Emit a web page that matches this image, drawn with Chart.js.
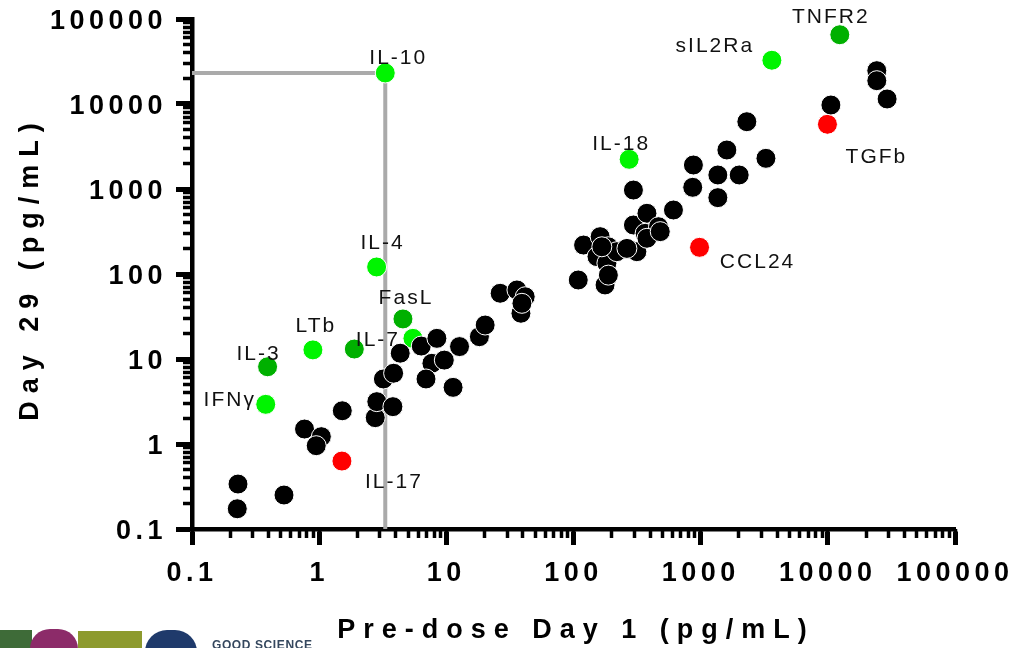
<!DOCTYPE html>
<html>
<head>
<meta charset="utf-8">
<script src="https://cdn.jsdelivr.net/npm/chart.js@4.4.1/dist/chart.umd.min.js"></script>
<style>
  html, body { margin: 0; padding: 0; background: #fff; }
  #wrap { position: relative; width: 1015px; height: 648px; overflow: hidden; }
  #logo { position: absolute; left: 0; top: 0; width: 340px; height: 648px; pointer-events: none; }
  #logo .blk { position: absolute; top: 630px; height: 30px; }
  #logo span {
    position: absolute; left: 212px; top: 638px;
    font: bold 12px "Liberation Sans Narrow", "Liberation Sans", Arial, sans-serif;
    letter-spacing: 0.6px; color: #34475e;
  }
</style>
</head>
<body>
<div id="wrap">
  <canvas id="scatter" width="1015" height="648"></canvas>
  <div id="logo">
    <div class="blk" style="left:0;width:32px;background:#3e6b38;"></div>
    <div class="blk" style="left:30px;top:629px;width:48px;background:#8c2b69;border-radius:20px 20px 0 0;"></div>
    <div class="blk" style="left:78px;top:631px;width:64px;background:#8d9a2e;"></div>
    <div class="blk" style="left:145px;top:630px;width:52px;background:#1f3a6b;border-radius:22px 22px 0 0;"></div>
    <span>GOOD SCIENCE</span>
  </div>
</div>
<script>
// cytokines, pg/mL: pre-dose day 1 (x) against day 29 (y)
const blackX = [0.23, 0.227, 0.529, 0.767, 1.04, 0.948, 1.52, 2.76, 2.84, 3.8,
  3.2, 3.85, 4.34, 6.35, 8.43, 12.7, 7.7, 9.64, 6.92, 11.3,
  18.2, 20.2, 26.5, 35.9, 41.7, 38.6, 39.3, 109, 177, 120,
  162, 188, 153, 183, 188, 219, 315, 263, 296, 378,
  366, 466, 378, 611, 296, 877, 866, 1365, 1365, 1607,
  2009, 2307, 3260, 24270, 24270, 29250, 10570, 167, 481];
const blackY = [0.338, 0.173, 0.251, 1.5, 1.22, 0.955, 2.46, 2.04, 3.15, 2.75,
  5.82, 6.8, 11.7, 14.2, 17.5, 14.0, 8.9, 9.7, 5.82, 4.64,
  18.3, 25.1, 59.3, 64.9, 54, 34.5, 45.2, 85, 74.3, 219,
  275, 209, 160, 134, 97, 183, 183, 200, 377, 518,
  301, 360, 263, 566, 972, 1915, 1047, 1462, 791, 2877,
  1462, 6190, 2296, 24660, 18800, 11460, 9730, 209, 315];

const lightNames = ["IL-10", "sIL2Ra", "IL-18", "IL-4", "IL-7", "LTb", "IFNγ"];
const lightX = [3.31, 3630, 274, 2.83, 5.46, 0.893, 0.38];
const lightY = [23170, 32700, 2235, 121, 17.5, 12.8, 2.93];

const darkNames = ["TNFR2", "FasL", "", "IL-3"];
const darkX = [12420, 4.56, 1.89, 0.393];
const darkY = [65300, 29.6, 13.1, 8.1];

const redNames = ["TGFb", "CCL24", "IL-17"];
const redX = [9930, 980, 1.51];
const redY = [5770, 206, 0.63];

const tickValues = [0.1, 1, 10, 100, 1000, 10000, 100000];
const tickLabels = ["0.1", "1", "10", "100", "1000", "10000", "100000"];

const xTitle = "Pre-dose Day 1 (pg/mL)";
const yTitle = "Day 29 (pg/mL)";

// where each name sits relative to its dot, in pixels
const labelOffsets = {
  "IL-10": [12, -15], "sIL2Ra": [-58, -14], "TNFR2": [-10, -18], "TGFb": [48, 33],
  "IL-18": [-9, -15], "CCL24": [57, 15], "IL-4": [5, -24], "FasL": [2, -21],
  "IL-7": [-36, 2], "LTb": [2, -24], "IL-3": [-10, -13], "IFNγ": [-37, -4],
  "IL-17": [51, 21]
};

const pts = (xs, ys) => xs.map((x, i) => ({ x: x, y: ys[i] }));

// cut-off lines run from the axes to IL-10
const il10 = lightNames.indexOf("IL-10");
const refLine = [
  { x: 0.1, y: lightY[il10] },
  { x: lightX[il10], y: lightY[il10] },
  { x: lightX[il10], y: 0.1 }
];

function minorTicks() {
  const out = [];
  for (let e = -1; e < 5; e++) {
    for (let k = 1; k < 10; k++) out.push({ value: k * Math.pow(10, e) });
  }
  out.push({ value: 100000 });
  return out;
}

const tickFont = { family: "Liberation Sans, Arial, sans-serif", size: 27, weight: "bold" };

function majorAxis(pos) {
  return {
    type: "logarithmic",
    position: pos,
    min: 0.1,
    max: 100000,
    afterBuildTicks: s => { s.ticks = tickValues.map(v => ({ value: v, major: true })); },
    afterFit: s => {
      if (pos === "left") { s.width = 192; s.paddingTop = 0; s.paddingBottom = 0; }
      else { s.height = 119; s.paddingLeft = 0; s.paddingRight = 0; }
    },
    ticks: {
      autoSkip: false,
      maxRotation: 0,
      font: tickFont,
      color: "#000",
      padding: pos === "left" ? 9 : 12,
      labelOffset: pos === "left" ? 3 : 0,
      callback: (v, i) => tickLabels[i]
    },
    grid: { drawOnChartArea: false, tickLength: 16, tickWidth: 5, tickColor: "#000" },
    border: { display: true, color: "#000", width: 4.5 }
  };
}

function minorAxis(axis, at) {
  return {
    type: "logarithmic",
    axis: axis,
    position: at,
    min: 0.1,
    max: 100000,
    afterBuildTicks: s => { s.ticks = minorTicks(); },
    ticks: { display: false },
    grid: { drawOnChartArea: false, tickLength: 9, tickWidth: 3.5, tickColor: "#000" },
    border: { display: false }
  };
}

// letter-spaced text for tick labels, names and axis titles
const spacedText = {
  id: "spacedText",
  beforeLayout(chart) { chart.ctx.letterSpacing = "4.5px"; },
  beforeDraw(chart) { chart.ctx.letterSpacing = "4.5px"; },
  afterDatasetsDraw(chart) {
    const ctx = chart.ctx;
    ctx.save();
    ctx.letterSpacing = "2px";
    ctx.font = "21px Liberation Sans, Arial, sans-serif";
    ctx.fillStyle = "#111";
    ctx.textAlign = "center";
    ctx.textBaseline = "middle";
    chart.data.datasets.forEach((ds, di) => {
      if (!ds.names) return;
      chart.getDatasetMeta(di).data.forEach((el, i) => {
        const name = ds.names[i];
        if (!name) return;
        const off = labelOffsets[name] || [0, -20];
        ctx.fillText(name, el.x + off[0] + 1, el.y + off[1]);
      });
    });
    ctx.restore();
  },
  afterDraw(chart) {
    const ctx = chart.ctx;
    ctx.save();
    ctx.letterSpacing = "8px";
    ctx.font = "bold 27px Liberation Sans, Arial, sans-serif";
    ctx.fillStyle = "#000";
    ctx.textAlign = "center";
    ctx.textBaseline = "middle";
    ctx.fillText(xTitle, 576, 631);
    ctx.translate(31, 272);
    ctx.rotate(-Math.PI / 2);
    ctx.fillText(yTitle, 4, 0);
    ctx.restore();
  }
};

new Chart(document.getElementById("scatter"), {
  type: "scatter",
  data: {
    datasets: [
      { label: "cut-off", type: "line", data: refLine, borderColor: "#aaaaaa", borderWidth: 4,
        pointRadius: 0, fill: false, tension: 0, order: 4 },
      { label: "other", data: pts(blackX, blackY), backgroundColor: "#000", order: 1 },
      { label: "up", data: pts(lightX, lightY), names: lightNames, backgroundColor: "#00f400", order: 2 },
      { label: "up, dark", data: pts(darkX, darkY), names: darkNames, backgroundColor: "#00b000", order: 2 },
      { label: "down", data: pts(redX, redY), names: redNames, backgroundColor: "#ff0000", order: 3 }
    ]
  },
  options: {
    responsive: false,
    animation: false,
    events: [],
    layout: { padding: { top: 19, right: 60, left: 0, bottom: 0 } },
    elements: { point: { radius: 10, hoverRadius: 10, borderColor: "#fff", borderWidth: 1 } },
    plugins: { legend: { display: false }, tooltip: { enabled: false } },
    scales: {
      x: majorAxis("bottom"),
      y: majorAxis("left"),
      xMinor: minorAxis("x", { y: 0.1 }),
      yMinor: minorAxis("y", { x: 0.1 })
    }
  },
  plugins: [spacedText]
});
</script>
</body>
</html>
